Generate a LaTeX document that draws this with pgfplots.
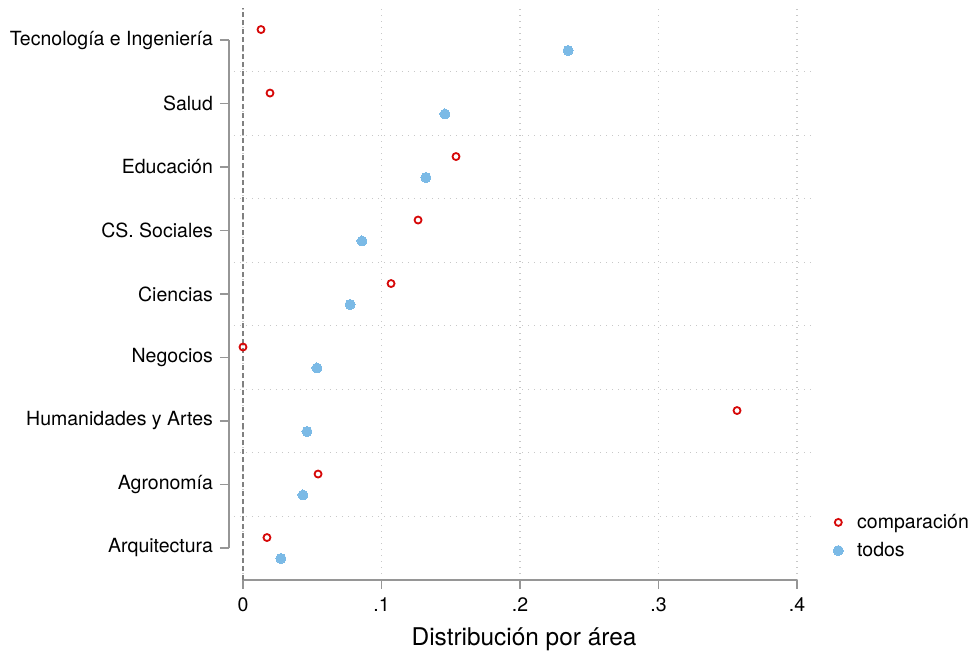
\documentclass[border=0pt]{standalone}
\usepackage{pgfplots}
\pgfplotsset{compat=1.18}
\usepackage{fontspec}
\setmainfont{TeX Gyre Heros}
\definecolor{redc}{RGB}{214,8,8}
\definecolor{bluec}{RGB}{123,186,230}
\definecolor{axgray}{RGB}{150,150,150}
\definecolor{gridgray}{RGB}{200,200,200}
\begin{document}
\begin{tikzpicture}
\path[use as bounding box] (-117pt,-35.125pt) rectangle (369.5pt,289.875pt);
\begin{axis}[
  at={(0,0)}, anchor=south west,
  scale only axis,
  width=290pt, height=285.75pt,
  xmin=-0.006498, xmax=0.41227,
  ymin=0.5, ymax=9.5,
  clip=false,
  axis lines*=left,
  axis line style={draw=none,-},
  xtick={0,0.1,0.2,0.3,0.4},
  xticklabels={0,.1,.2,.3,.4},
  ytick={1,2,3,4,5,6,7,8,9},
  yticklabels={Arquitectura,Agronomía,Humanidades y Artes,Negocios,Ciencias,CS. Sociales,Educación,Salud,Tecnología e Ingeniería},
  minor ytick={1.5,2.5,3.5,4.5,5.5,6.5,7.5,8.5},
  minor tick length=0pt,
  tick align=outside,
  major tick length=4.5pt,
  xtick style={draw=axgray, line width=0.75pt},
  ytick style={draw=axgray, line width=0.75pt, xshift=-2.5pt},
  xmajorgrids, yminorgrids,
  grid style={draw=gridgray, line width=0.6pt, dash pattern=on 0.6pt off 2.4pt},
  /pgf/number format/assume math mode=true,
  ticklabel style={font=\fontsize{9.75pt}{11pt}\selectfont},
  yticklabel style={xshift=-2.5pt},
  xticklabel style={yshift=-1pt},
  xlabel={Distribución por área},
  xlabel style={font=\fontsize{12.2pt}{14pt}\selectfont, yshift=-1pt},
  legend style={draw=none, fill=none, at={(1.0259,0.0757)}, anchor=west,
    font=\fontsize{9.75pt}{11pt}\selectfont, row sep=1.5pt, inner sep=0pt},
  legend cell align=left,
  legend image code/.code={\path (0pt,0pt) (11pt,0pt); \draw[mark repeat=2,mark phase=2,#1] plot coordinates {(-3pt,0pt)(4pt,0pt)(11pt,0pt)};},
]
\addplot[only marks, mark=o, mark size=1.75pt, color=redc, line width=0.9pt] coordinates {
(0.0130,9.165) (0.0195,8.165) (0.1538,7.165) (0.1264,6.165) (0.1069,5.165)
(0.0000,4.165) (0.3567,3.165) (0.0542,2.165) (0.0173,1.165)};
\addlegendentry{comparación}
\addplot[only marks, mark=*, mark size=2.5pt, color=bluec, mark options={draw=bluec, fill=bluec, line width=0pt}] coordinates {
(0.2347,8.835) (0.1458,7.835) (0.1321,6.835) (0.0859,5.835) (0.0773,4.835)
(0.0534,3.835) (0.0462,2.835) (0.0433,1.835) (0.0274,0.835)};
\addlegendentry{todos}
\draw[axgray, line width=0.75pt] (axis cs:-0.0101,1) -- (axis cs:-0.0101,9);
\draw[axgray, line width=0.75pt] (axis cs:0,0.5) -- (axis cs:0.4,0.5);
\draw[gray, line width=0.75pt, dash pattern=on 2.6pt off 1.6pt] (axis cs:0,0.5) -- (axis cs:0,9.5);
\end{axis}
\end{tikzpicture}
\end{document}
